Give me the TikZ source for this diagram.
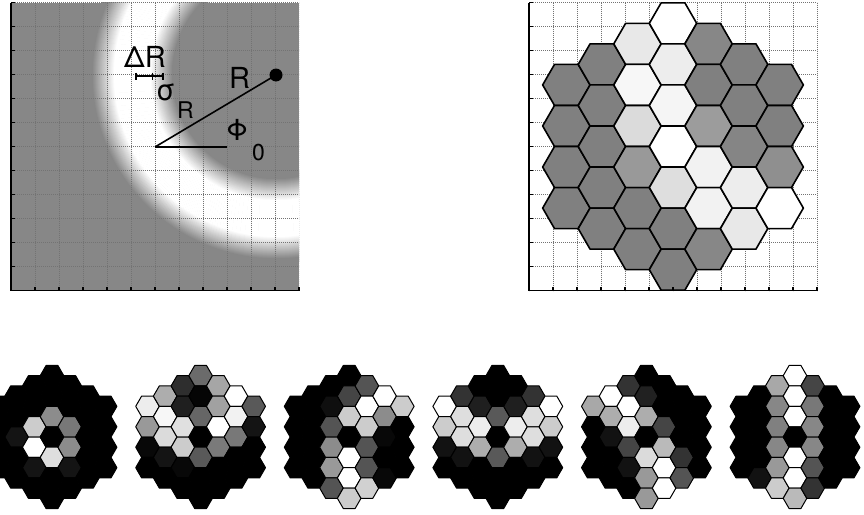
\documentclass[tikz,border=0pt]{standalone}
\usepackage{fontspec}
\setmainfont{TeX Gyre Heros}
\usepackage{tikz}
\usetikzlibrary{calc}

\definecolor{ringbg}{gray}{0.53}

% hexagonal array of 37 cells, columns given top to bottom as grey levels
\newcommand{\hexarray}[5]{% style, centre x, centre y, side, columns
  \foreach \col [count=\c from -3] in {#5} {
    \foreach \g [count=\k from 0] in \col {
      \pgfmathsetmacro{\hx}{#2+1.5*#4*\c}
      \pgfmathsetmacro{\hy}{#3+sqrt(3)*#4*(\k-(6-abs(\c))/2)}
      \filldraw[#1, fill=white!\g!black, shift={(\hx,\hy)}]
        (0:#4pt) -- (60:#4pt) -- (120:#4pt) -- (180:#4pt) -- (240:#4pt) -- (300:#4pt) -- cycle;
    }
  }}

\begin{document}
\begin{tikzpicture}[x=1pt, y=-1pt,
    gridline/.style={black!55, line width=0.5pt, dash pattern=on 0.8pt off 1.2pt},
    axisline/.style={black, line width=1.6pt},
    tickline/.style={black, line width=1.2pt},
    bighex/.style={line width=1.6pt, line join=round},
    smallhex/.style={line width=1pt, line join=round},
    lbl/.style={inner sep=0pt, anchor=base west, font=\fontsize{29}{33}\selectfont},
    sublbl/.style={inner sep=0pt, anchor=base west, font=\fontsize{23}{27}\selectfont}]
    \useasboundingbox (0,0) rectangle (864,514);

    % Ring image
    \coordinate (ringc) at (276,75);
    \begin{scope}
        \clip (11,2.5) rectangle (299,290.5);
        \fill[ringbg] (11,2.5) rectangle (299,290.5);
        \foreach \r in {100,101,...,188} {
            \pgfmathsetmacro{\w}{100*max(0,min(1,min((\r-104)/22,(184-\r)/22)))}
            \draw[white!\w!ringbg, line width=1.5pt] (ringc) circle (\r pt);
        }
        \foreach \k in {0,...,12} {
            \draw[gridline] (11+24*\k,2.5) -- (11+24*\k,290.5);
            \draw[gridline] (11,2.5+24*\k) -- (299,2.5+24*\k);
        }
    \end{scope}

    % Grid behind the hexagons
    \foreach \k in {0,...,12} {
        \draw[gridline] (529+24*\k,2.5) -- (529+24*\k,290.5);
        \draw[gridline] (529,2.5+24*\k) -- (817,2.5+24*\k);
    }

    % Camera pixels
    \hexarray{bighex}{673}{146.5}{23.7}{{50,50,50,50},{50,50,50,50,50},{91,97,86,60,50,50},
        {100,93,96,100,87,50,50},{53,50,61,95,95,53},{50,50,52,93,91},{50,50,56,100}}

    % Axes
    \foreach \ox in {11,529} {
        \foreach \k in {0,...,12} {
            \draw[tickline] (\ox,2.5+24*\k) -- ++(3.5,0);
            \draw[tickline] (\ox+24*\k,290.5) -- ++(0,-3.5);
        }
        \draw[axisline] (\ox,2.5) -- (\ox,290.5) -- (\ox+288,290.5);
    }

    % Ring parameters
    \coordinate (ctr) at (155,147);
    \coordinate (phiend) at (227,147);
    \node[circle, fill=black, inner sep=0pt, minimum size=13pt] (dot) at (ringc) {};
    \draw[line width=1.6pt] (ctr) -- (dot.center);
    \draw[line width=1.6pt] (ctr) -- (phiend);
    \coordinate (barl) at (135,76);
    \coordinate (barr) at (164,76);
    \draw[line width=1.4pt] (barl) -- (barr);
    \foreach \bx in {136,152.5,163}
        \draw[line width=1.4pt] (\bx,72.5) -- (\bx,79.5);
    \node[lbl] (dR) at (124,67) {ΔR};
    \node[lbl] (lR) at (229,88) {R};
    \node[lbl] (sig) at (156,100) {σ};
    \node[sublbl] (sigR) at (177,118) {R};
    \node[lbl] (phi) at (226,140) {Φ};
    \node[sublbl] (phi0) at (252,160) {0};

    % Sample images
    \hexarray{smallhex}{52}{437}{11.8}{{0,0,0,0},{0,0,8,0,0},{0,0,80,100,8,0},
        {0,0,55,0,87,0,0},{0,0,47,55,8,0},{0,0,0,0,0},{0,0,0,0}}
    \hexarray{smallhex}{200.6}{437}{11.8}{{93,60,3,0},{68,97,86,8,0},{18,12,88,80,3,0},
        {42,2,40,0,35,0,0},{65,63,100,48,0,0},{100,95,47,0,0},{35,8,0,0}}
    \hexarray{smallhex}{349.2}{437}{11.8}{{0,0,0,0},{0,0,0,0,0},{0,6,33,55,60,33},
        {0,27,80,0,100,100,80},{33,100,80,33,33,82},{100,55,3,0,3},{80,0,0,0}}
    \hexarray{smallhex}{497.8}{437}{11.8}{{100,80,7,0},{20,87,87,7,0},{0,12,93,68,0,0},
        {0,0,35,0,35,0,0},{0,12,93,68,0,0},{20,87,87,7,0},{100,80,7,0}}
    \hexarray{smallhex}{646.4}{437}{11.8}{{66,0,0,0},{100,68,7,0,0},{20,100,93,27,7,0},
        {0,13,68,0,86,60,60},{0,0,27,73,100,100},{0,0,0,20,33},{0,0,0,0}}
    \hexarray{smallhex}{795}{437}{11.8}{{0,0,0,0},{0,0,0,0,7},{66,53,50,53,60,80},
        {100,100,100,0,100,100,73},{27,47,53,53,33,20},{0,0,0,0,0},{0,0,0,0}}
\end{tikzpicture}
\end{document}
